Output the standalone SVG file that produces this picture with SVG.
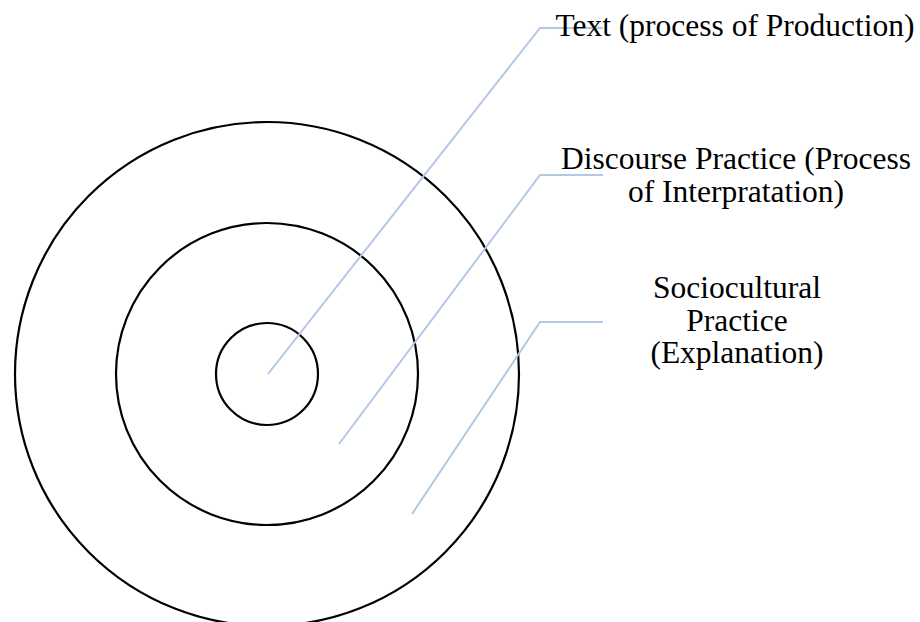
<svg xmlns="http://www.w3.org/2000/svg" width="920" height="622" viewBox="0 0 920 622">
<style>
.ring{fill:none;stroke:#000;stroke-width:2.2}
.lead{fill:none;stroke:#b4c7e7;stroke-width:2}
.lbl{font-family:"Liberation Serif","Times New Roman",serif;font-size:31.5px;fill:#000;text-anchor:middle}
</style>
<rect width="920" height="622" fill="#fff"/>
<g id="outer"><circle class="ring" cx="267" cy="374" r="252"/></g>
<g id="middle"><circle class="ring" cx="267" cy="374" r="151"/></g>
<g id="inner"><circle class="ring" cx="267" cy="374" r="51"/></g>
<g id="connectors">
<polyline class="lead" points="268,374 540,28 603,28"/>
<polyline class="lead" points="339,444 540,175 603,175"/>
<polyline class="lead" points="412,514 540,322 603,322"/>
</g>
<g id="label-text"><text class="lbl" x="735" y="36">Text (process of Production)</text></g>
<g id="label-discourse"><text class="lbl" x="736" y="169">Discourse Practice (Process</text><text class="lbl" x="736" y="202">of Interpratation)</text></g>
<g id="label-socio"><text class="lbl" x="737" y="298">Sociocultural</text><text class="lbl" x="737" y="331">Practice</text><text class="lbl" x="737" y="363">(Explanation)</text></g>
</svg>
